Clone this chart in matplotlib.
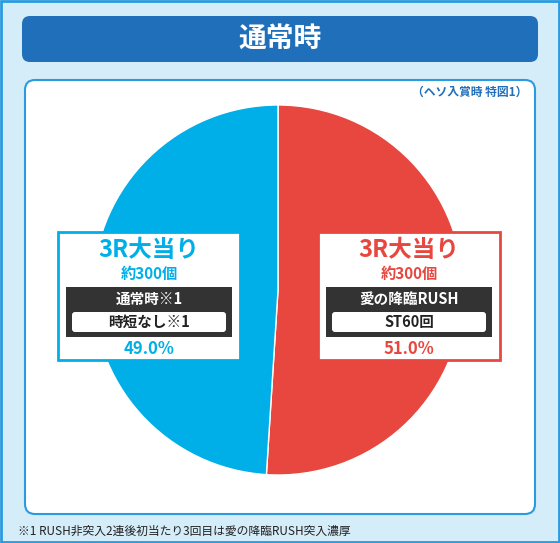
import matplotlib
matplotlib.use("Agg")
import matplotlib.pyplot as plt
from matplotlib.patches import FancyBboxPatch, Rectangle

plt.rcParams['font.family'] = ['Noto Sans CJK JP', 'DejaVu Sans']

labels = ["愛の降臨RUSH", "通常時"]
values = [51.0, 49.0]
colors = ["#e8473f", "#00aee8"]
title = "通常時"
subtitle = "（ヘソ入賞時 特図1）"
footnote = "※1 RUSH非突入2連後初当たり3回目は愛の降臨RUSH突入濃厚"

W, H = 560, 543
fig = plt.figure(figsize=(W/100, H/100), dpi=100)
bg = fig.add_axes([0, 0, 1, 1])
bg.set_xlim(0, W); bg.set_ylim(H, 0); bg.axis('off')

bg.add_patch(Rectangle((1, 1), W-2, H-2, fc="#d5ecf9", ec="#2a9be0", lw=2))
bg.add_patch(FancyBboxPatch((22, 16), 516, 46, boxstyle="round,pad=0,rounding_size=8", fc="#1f6fba", ec="none"))
bg.text(W/2, 39, title, color="white", fontsize=20, weight="bold", ha="center", va="center")
bg.add_patch(FancyBboxPatch((25, 80), 510, 434, boxstyle="round,pad=0,rounding_size=10", fc="white", ec="#2a9be0", lw=1.5))
bg.text(527, 92, subtitle, color="#1f6fba", fontsize=8.5, weight="bold", ha="right", va="center")
bg.text(18, 531, footnote, color="#222222", fontsize=8.5, ha="left", va="center")

pc = (278, 290); r = 185
pa = fig.add_axes([(pc[0]-r)/W, (H-pc[1]-r)/H, 2*r/W, 2*r/H])
pa.pie(values, colors=colors, startangle=90, counterclock=False, radius=1,
       wedgeprops=dict(lw=1, ec="white"))
pa.set_xlim(-1, 1); pa.set_ylim(-1, 1); pa.axis('off')

ov = fig.add_axes([0, 0, 1, 1])
ov.set_xlim(0, W); ov.set_ylim(H, 0); ov.axis('off')

def box(x0, col, line1, line2, pct):
    w = 182
    ov.add_patch(Rectangle((x0, 232), w, 128, fc="white", ec=col, lw=2))
    cx = x0 + w/2
    ov.text(cx, 250, "3R大当り", color=col, fontsize=17, weight="bold", ha="center", va="center")
    ov.text(cx, 274, "約300個", color=col, fontsize=11, weight="bold", ha="center", va="center")
    ov.add_patch(Rectangle((x0+8, 287), w-16, 50, fc="#333333", ec="none"))
    ov.text(cx, 299, line1, color="white", fontsize=10.5, weight="bold", ha="center", va="center")
    ov.add_patch(FancyBboxPatch((x0+14, 312), w-28, 20, boxstyle="round,pad=0,rounding_size=3", fc="white", ec="none"))
    ov.text(cx, 322, line2, color="#222222", fontsize=10.5, weight="bold", ha="center", va="center")
    ov.text(cx, 349, pct, color=col, fontsize=12, weight="bold", ha="center", va="center")

box(58, colors[1], "通常時※1", "時短なし※1", f"{values[1]:.1f}%")
box(318, colors[0], labels[0], "ST60回", f"{values[0]:.1f}%")

fig.savefig("out.png", dpi=100)
